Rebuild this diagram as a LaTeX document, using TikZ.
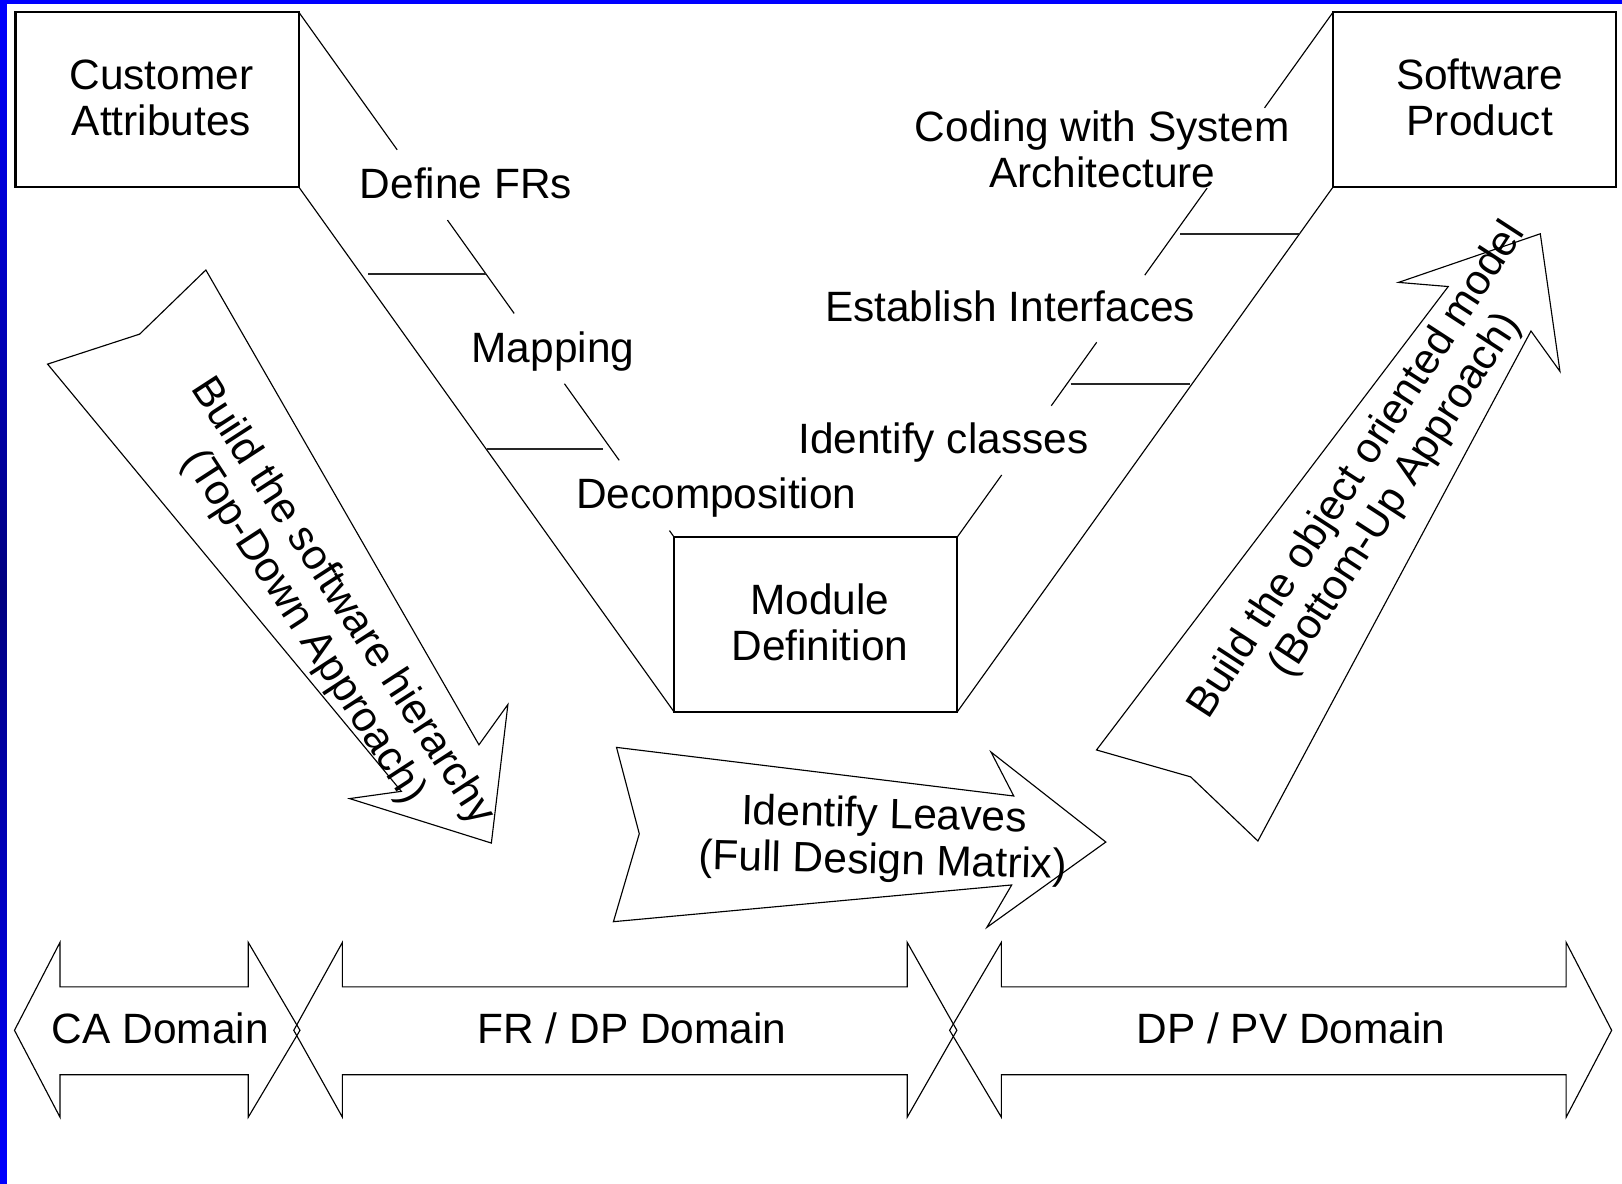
\documentclass[tikz,border=0pt]{standalone}
\usepackage{fontspec}
\setmainfont{Liberation Sans}
\usetikzlibrary{calc}
\definecolor{navybar}{RGB}{0,0,128}
\begin{document}
\begin{tikzpicture}[x=0.5pt,y=-0.5pt,
  every node/.style={font=\fontsize{20.5}{22.3}\selectfont, inner sep=0pt},
  boxst/.style={draw=black, line width=1pt, outer sep=0pt, minimum width=137pt, minimum height=84.5pt},
  boxtxt/.style={align=center, xshift=2pt, yshift=1pt},
  thinl/.style={line width=0.55pt, line join=miter},
  tickl/.style={line width=0.7pt, black!85},
  lbl/.style={anchor=base}]
\useasboundingbox (0,0) rectangle (1568,1144);
\fill[white] (0,0) rectangle (1568,1144);
% blue frame
\fill[blue] (0,0) rectangle (1568,3.7);
\shade[top color=blue, bottom color=blue, middle color=navybar] (0,0) rectangle (6.6,1144);

% boxes
\node[boxst, label={[boxtxt]center:{Customer\\Attributes}}] (ca) at (152,96.5) {};
\node[boxst, label={[boxtxt, xshift=0.5pt]center:{Software\\Product}}] (sp) at (1425.5,96.5) {};
\node[boxst, label={[boxtxt]center:{Module\\Definition}}] (md) at (788.5,603.5) {};

% left V connectors
\draw[thinl] (ca.north east) -- ($(ca.north east)!0.262!(md.north west)$);
\draw[thinl] ($(ca.north east)!0.396!(md.north west)$) -- ($(ca.north east)!0.574!(md.north west)$);
\draw[thinl] ($(ca.north east)!0.708!(md.north west)$) -- ($(ca.north east)!0.854!(md.north west)$);
\draw[thinl] ($(ca.north east)!0.988!(md.north west)$) -- (md.north west);
\draw[thinl] (ca.south east) -- (md.south west);
% right V connectors
\draw[thinl] (md.north east) -- ($(md.north east)!0.118!(sp.north west)$);
\draw[thinl] ($(md.north east)!0.250!(sp.north west)$) -- ($(md.north east)!0.371!(sp.north west)$);
\draw[thinl] ($(md.north east)!0.499!(sp.north west)$) -- ($(md.north east)!0.665!(sp.north west)$);
\draw[thinl] ($(md.north east)!0.818!(sp.north west)$) -- (sp.north west);
\draw[thinl] (md.south east) -- (sp.south west);

% ticks
\draw[tickl] (356,265) -- (470,265);
\draw[tickl] (471,434) -- (583,434);
\draw[tickl] (1141,226) -- (1257,226);
\draw[tickl] (1035,371) -- (1150,371);

% step labels
\node[lbl] (l1) at (450.5,192.2) {Define FRs};
\node[lbl] (l2) at (534.5,350.7) {Mapping};
\node[lbl] (l3) at (692.5,491.7) {Decomposition};
\node[lbl] (l4) at (912,438.7) {Identify classes};
\node[lbl] (l5) at (976.5,310.7) {Establish Interfaces};
\node[align=center] (l6) at (1065.5,144.5) {Coding with System\\Architecture};

% big arrows
\draw[thinl] (199,261) -- (463,720) -- (491,681) -- (475,815) -- (338,772) -- (388,765) -- (46,352) -- (135,323) -- cycle;
\draw[thinl] (1060,725) -- (1151,751) -- (1216,813) -- (1480,320) -- (1508,359) -- (1489,226) -- (1352,273) -- (1400,277) -- cycle;
\draw[thinl] (596,722.5) -- (980,769.5) -- (958,727) -- (1069,814) -- (954,896.5) -- (978,855.5) -- (593,891) -- (618,806) -- cycle;

\node[align=center, rotate=-57] (t1) at (312,594) {Build the software hierarchy\\(Top-Down Approach)};
\node[align=center, rotate=57] (t2) at (1331,467) {Build the object oriented model\\(Bottom-Up Approach)};
\node[align=center, rotate=-1.5] (t3) at (854,812) {Identify Leaves\\(Full Design Matrix)};

% domain arrows
\draw[thinl] (14,996) -- (58,911) -- (58,954) -- (240,954) -- (240,911) -- (290,996) -- (240,1080) -- (240,1039) -- (58,1039) -- (58,1080) -- cycle;
\draw[thinl] (284,996) -- (331,911) -- (331,954) -- (877,954) -- (877,911) -- (925,996) -- (877,1080) -- (877,1039) -- (331,1039) -- (331,1080) -- cycle;
\draw[thinl] (918,996) -- (968,911) -- (968,954) -- (1514,954) -- (1514,911) -- (1558,996) -- (1514,1080) -- (1514,1039) -- (968,1039) -- (968,1080) -- cycle;
\node[lbl] (d1) at (155,1009) {CA Domain};
\node[lbl] (d2) at (611,1009) {FR / DP Domain};
\node[lbl] (d3) at (1248,1009) {DP / PV Domain};
\end{tikzpicture}
\end{document}
